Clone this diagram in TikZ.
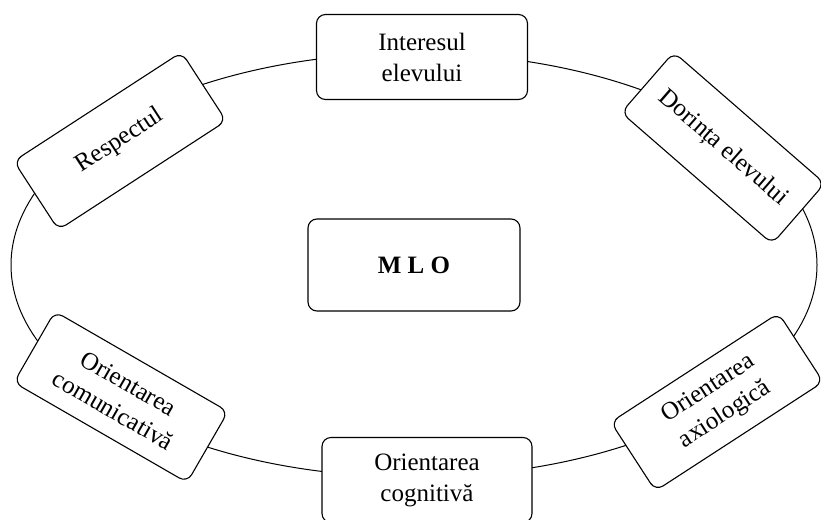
\documentclass[tikz,border=0pt]{standalone}
\usepackage{fontspec}
\setmainfont{Liberation Serif}
\usetikzlibrary{positioning}

\begin{document}
\begin{tikzpicture}[
  x=1pt,y=-1pt,
  topic/.style={draw=black,fill=white,rounded corners=9pt,line width=1.1pt,minimum width=200pt,minimum height=82pt,align=center,inner sep=2pt,font=\fontsize{25}{31}\selectfont},
  core/.style={topic,minimum width=212pt,minimum height=92pt,font=\fontsize{25}{31}\selectfont\bfseries},
  ring/.style={draw=black,line width=1pt}
]
\useasboundingbox (0,0) rectangle (821,519);
\coordinate (centre) at (414,265);
\draw[ring] (centre) ellipse [x radius=403, y radius=212];
\node[core] (mlo) at (centre) {M L O};
\node[topic,minimum width=211pt,minimum height=85pt] (interes) at (422,57) {Interesul\\elevului};
\node[topic,minimum width=210pt,minimum height=85pt] (cognitiv) at (427,480) {Orientarea\\cognitivă};
\node[topic,rotate=33] (respect) at (120,141) {Respectul};
\node[topic,rotate=-41,minimum height=80pt] (dorinta) at (723,148) {Dorința elevului};
\node[topic,rotate=-30] (comunic) at (121,397) {Orientarea\\comunicativă};
\node[topic,rotate=33] (axiolog) at (717,402) {Orientarea\\axiologică};
\end{tikzpicture}
\end{document}
